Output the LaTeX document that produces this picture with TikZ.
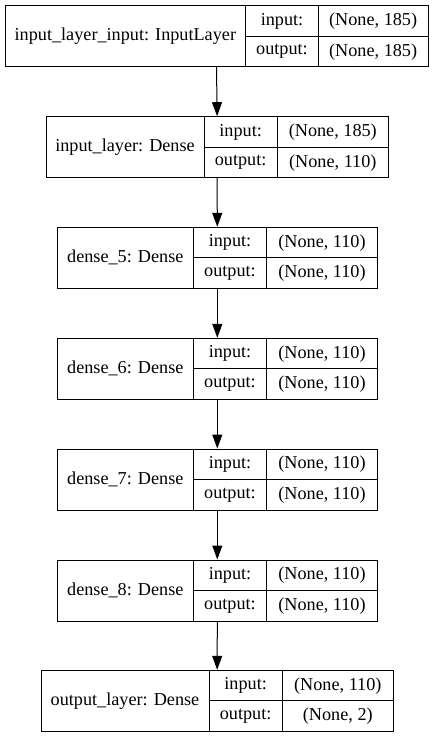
\documentclass[tikz,border=0pt]{standalone}
\usepackage{fontspec}
\setmainfont{Liberation Serif}
\usetikzlibrary{arrows.meta,fit}
\tikzset{
  cellline/.style={draw=black, line width=1pt},
  txt/.style={inner sep=0pt, font=\fontsize{18.2}{21}\selectfont},
  flow/.style={draw=black, line width=1pt, -{Triangle[length=14pt,width=10pt]}},
}
% id, x0, x1, x2, x3, ytop, label, in, out
\newcommand\klayer[9]{%
  \coordinate (#1nw) at (#2,#6);
  \coordinate (#1se) at (#5,{#6+61});
  \node[cellline, fit=(#1nw)(#1se), inner sep=0pt] (#1) {};
  \draw[cellline] (#3,#6) -- (#3,{#6+61});
  \draw[cellline] (#4,#6) -- (#4,{#6+61});
  \draw[cellline] (#3,{#6+30.5}) -- (#5,{#6+30.5});
  \node[txt] (#1lab) at ({(#2+#3)/2},{#6+30.5}) {#7};
  \node[txt] (#1inl) at ({(#3+#4)/2},{#6+15.5}) {input:};
  \node[txt] (#1inv) at ({(#4+#5)/2},{#6+15.5}) {#8};
  \node[txt] (#1outl) at ({(#3+#4)/2},{#6+46}) {output:};
  \node[txt] (#1outv) at ({(#4+#5)/2},{#6+46}) {#9};
}
\begin{document}
\begin{tikzpicture}[x=1pt,y=-1pt]
\useasboundingbox[fill=white] (0,0) rectangle (435,737);
\klayer{L0}{5}{245.7}{318.3}{428}{5.7}{input\_layer\_input: InputLayer}{(None, 185)}{(None, 185)}
\klayer{L1}{46}{204}{277.3}{388.3}{116.7}{input\_layer: Dense}{(None, 185)}{(None, 110)}
\klayer{L2}{57.3}{193.3}{266.7}{377.3}{227.3}{dense\_5: Dense}{(None, 110)}{(None, 110)}
\klayer{L3}{57.3}{193.3}{266.7}{377.3}{338.3}{dense\_6: Dense}{(None, 110)}{(None, 110)}
\klayer{L4}{57.3}{193.3}{266.7}{377.3}{449}{dense\_7: Dense}{(None, 110)}{(None, 110)}
\klayer{L5}{57.3}{193.3}{266.7}{377.3}{560}{dense\_8: Dense}{(None, 110)}{(None, 110)}
\klayer{L6}{41}{209}{282.3}{393.3}{670.3}{output\_layer: Dense}{(None, 110)}{(None, 2)}
\draw[flow] (L0.south) -- (L1.north);
\draw[flow] (L1.south) -- (L2.north);
\draw[flow] (L2.south) -- (L3.north);
\draw[flow] (L3.south) -- (L4.north);
\draw[flow] (L4.south) -- (L5.north);
\draw[flow] (L5.south) -- (L6.north);
\end{tikzpicture}
\end{document}
